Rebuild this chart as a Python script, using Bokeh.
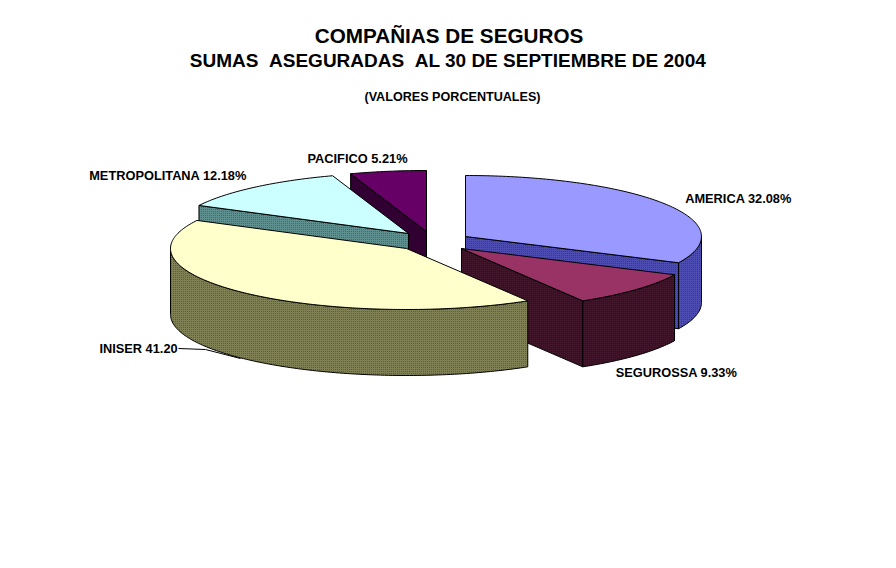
import math
from bokeh.plotting import figure
from bokeh.core.properties import value
from bokeh.embed import file_html
from bokeh.resources import INLINE

# --- data
companies = ["AMERICA", "SEGUROSSA", "INISER", "METROPOLITANA", "PACIFICO"]
shares = [32.08, 9.33, 41.20, 12.18, 5.21]
label_texts = ["AMERICA 32.08%", "SEGUROSSA 9.33%", "INISER 41.20", "METROPOLITANA 12.18%", "PACIFICO 5.21%"]
title_lines = ["COMPAÑIAS DE SEGUROS", "SUMAS\u00a0\u00a0ASEGURADAS\u00a0\u00a0AL 30 DE SEPTIEMBRE DE 2004", "(VALORES PORCENTUALES)"]

# --- styles / layout
top_colors = ["#9999FF", "#993366", "#FFFFCC", "#CCFFFF", "#660066"]
wall_colors = ["#4C4CB2", "#401529", "#808055", "#5F9090", "#330033"]
centers_x = [465, 461, 406, 408, 426]
centers_y = [236, 248, 248, 233, 231]
RX, RY, DEPTH = 236, 61, 66
draw_order = [4, 3, 0, 1, 2]
label_x = [738, 676, 138, 167.5, 357]
label_y = [198, 372, 348, 175, 158]
title_x = [448.5, 447.5, 452]
title_y = [35, 60, 96]
title_sizes = ["20.7px", "19px", "12.6px"]
label_size = "12.8px"
FONT = "Liberation Sans"

p = figure(width=880, height=552, x_range=(0, 880), y_range=(552, 0),
           output_backend="svg", toolbar_location=None, min_border=0,
           outline_line_color=None, background_fill_color="white")
p.axis.visible = False
p.grid.visible = False


def pt(cx, cy, deg, drop=0.0):
    a = math.radians(deg)
    return cx + RX * math.sin(a), cy - RY * math.cos(a) + drop


def arc(cx, cy, a0, a1, drop=0.0):
    n = max(2, int(abs(a1 - a0)) + 1)
    pts = [pt(cx, cy, a0 + (a1 - a0) * i / (n - 1), drop) for i in range(n)]
    return [q[0] for q in pts], [q[1] for q in pts]


bounds = [0.0]
total = sum(shares)
for s in shares:
    bounds.append(bounds[-1] + 360.0 * s / total)

for i in draw_order:
    cx, cy = centers_x[i], centers_y[i]
    a0, a1 = bounds[i], bounds[i + 1]
    wc = wall_colors[i]
    sty = dict(fill_color=wc, line_color="black", line_width=1,
               hatch_pattern="dot", hatch_scale=2, hatch_weight=1, hatch_color="black", hatch_alpha=0.35)
    # radial wall facing the viewer
    for ang, vis in ((a0, math.sin(math.radians(a0)) < -1e-6), (a1, math.sin(math.radians(a1)) > 1e-6)):
        if vis:
            ex, ey = pt(cx, cy, ang)
            p.patch([cx, ex, ex, cx], [cy, ey, ey + DEPTH, cy + DEPTH], **sty)
    # outer wall: the part of the rim on the near side
    w0, w1 = max(a0, 90.0), min(a1, 270.0)
    if w1 > w0:
        tx, ty = arc(cx, cy, w0, w1)
        bx, by = arc(cx, cy, w0, w1, DEPTH)
        p.patch(tx + bx[::-1], ty + by[::-1], **sty)
    # top face
    tx, ty = arc(cx, cy, a0, a1)
    p.patch([cx] + tx, [cy] + ty, fill_color=top_colors[i], line_color="black", line_width=1)

# leader of the INISER label
p.line([178, 205, 240], [348, 349, 358], line_color="black", line_width=1)

p.text(label_x, label_y, text=label_texts, text_font=value(FONT), text_font_style="bold",
       text_font_size=label_size, text_align="center", text_baseline="middle", text_color="black")
for x, y, t, sz in zip(title_x, title_y, title_lines, title_sizes):
    p.text([x], [y], text=[t], text_font=value(FONT), text_font_style="bold",
           text_font_size=sz, text_align="center", text_baseline="middle", text_color="black")

open("out.html", "w").write(file_html(p, INLINE))
